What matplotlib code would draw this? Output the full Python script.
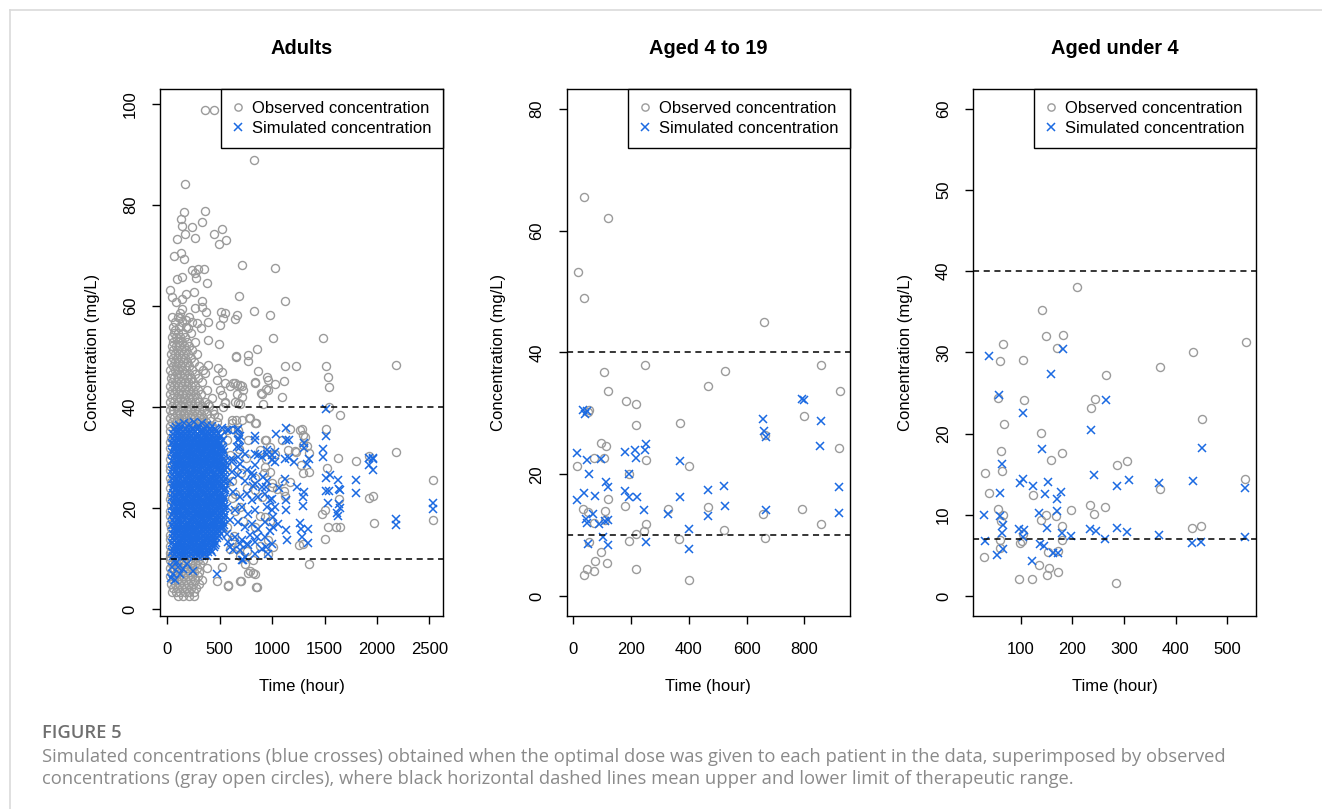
import matplotlib
matplotlib.use('Agg')
import matplotlib.pyplot as plt
from matplotlib.lines import Line2D

# ---------------- data ----------------
# Adults: observed, scattered points
obs_adult_x = [360, 445, 830, 166, 159, 363, 127, 143, 239, 328, 166, 261, 442, 519, 496, 557,
               89, 61, 127, 159, 232, 290, 350, 264, 143, 89, 274, 379, 709, 1027, 687, 1126,
               29, 48, 80, 143, 175, 252, 334, 331, 143, 261, 369, 391, 512, 547, 534, 643,
               662, 830, 983, 503, 124, 121, 181, 286, 321, 77, 197, 385, 1012, 1482,
               493, 659, 773, 773, 853, 1126, 1228, 1514, 1530, 1540, 2182, 865, 951, 837, 1031, 1116,
               938, 897, 1094, 910, 662, 716, 627, 601, 671, 554, 1543, 1644, 1282, 1298, 1314, 1170,
               1514, 1225, 1298, 1330, 1349, 1275, 1298, 1355, 1632, 1803, 1924, 2185, 1527, 2535, 2535, 1924,
               1966, 1969, 1635, 1479, 1508, 1536, 1613, 1651, 1508, 1256, 1298, 1352, 1170, 942, 783, 843,
               652, 614, 773, 1113, 1126, 942, 1221, 576, 700, 846, 767, 821, 474, 519,
               789, 837, 566, 678, 932, 980, 1027, 1091, 1155, 1266, 932, 980, 1091, 837, 900, 996,
               566, 614, 646, 694, 566, 614, 678, 837, 932, 964, 1011, 741, 789, 837, 694, 583, 853,
               391, 439, 487, 535, 423, 519, 566, 455, 535, 614, 678, 710, 640, 600, 690, 760,
               820, 880, 960, 720, 650, 880, 980, 560, 620, 700, 760, 840, 920, 1000, 1050, 600,
               680, 750, 880, 655, 487, 519, 391, 360, 471, 551, 503, 519, 551, 646, 694, 725,
               662, 709, 646, 694, 837, 900, 964, 964]
obs_adult_y = [98.9, 98.9, 89.0, 84.2, 78.6, 78.8, 77.2, 75.8, 75.6, 76.6, 74.2, 73.5, 74.3, 75.2, 72.3, 73.0,
               73.3, 69.9, 70.6, 69.4, 67.2, 67.4, 67.3, 66.5, 65.8, 65.4, 65.6, 64.6, 68.2, 67.6, 62.0, 61.0,
               63.1, 61.8, 60.8, 61.5, 62.5, 62.8, 61.0, 59.9, 59.5, 59.7, 58.8, 56.8, 58.8, 58.7, 57.6, 57.5,
               58.2, 59.1, 58.3, 56.3, 58.7, 57.7, 57.2, 56.7, 55.6, 55.3, 55.6, 53.3, 53.6, 53.7,
               52.5, 50.0, 50.4, 49.2, 51.6, 48.1, 48.1, 48.1, 45.9, 44.1, 48.3, 47.2, 46.0, 44.9, 44.5, 45.1,
               43.7, 42.9, 42.1, 40.7, 44.4, 44.2, 44.7, 44.2, 40.9, 40.9, 40.1, 38.5, 35.6, 34.6, 34.1, 35.6,
               35.6, 31.1, 32.6, 32.3, 31.0, 28.6, 27.0, 27.2, 30.0, 29.3, 30.4, 31.2, 27.9, 25.6, 17.6, 22.0,
               22.4, 17.1, 21.9, 18.9, 19.7, 16.4, 16.4, 16.4, 14.0, 12.7, 13.0, 9.05, 25.2, 33.6, 37.8, 36.9,
               37.4, 37.4, 33.5, 23.5, 22.5, 29.8, 31.3, 4.6, 5.6, 4.4, 7.3, 7.3, 5.6, 8.3,
               37.8, 36.8, 35.4, 34.8, 33.5, 32.2, 30.8, 33.5, 31.5, 35.4, 28.2, 27.2, 25.5, 23.6, 22.3, 24.2,
               28.2, 25.5, 22.9, 20.3, 16.3, 13.7, 12.4, 16.3, 18.3, 13.7, 12.4, 9.0, 7.7, 7.0, 5.7, 4.8, 4.4,
               40.7, 39.4, 38.1, 40.1, 36.1, 34.8, 33.5, 32.2, 30.8, 36.8, 35.4, 37.4, 14.5, 12.0, 10.5, 11.5,
               9.8, 12.5, 11.0, 17.5, 19.5, 18.5, 17.5, 25.0, 22.0, 27.0, 24.0, 26.0, 27.0, 25.0, 23.8, 30.5,
               31.8, 30.0, 31.5, 50.1, 47.7, 47.0, 48.3, 46.7, 45.4, 44.7, 43.4, 42.4, 41.1, 44.7, 44.4, 43.4,
               42.7, 42.1, 41.1, 40.7, 44.7, 42.7, 45.4, 43.4]

# Adults: observed, dense column (row level -> times)
obs_adult_col_y = [36.2, 37.0, 37.8, 38.6, 39.4, 40.2, 41.0, 41.8, 42.6, 43.4, 44.2, 45.0, 45.8,
                   46.6, 47.4, 48.2, 49.0, 49.8, 50.6, 51.4, 52.2, 53.0, 53.8, 54.6, 55.8, 56.8, 57.8,
                   9.8, 9.0, 8.2, 7.4, 6.6, 5.8, 5.0, 4.2, 3.4, 2.7]
obs_adult_col_x = [[28, 70, 101, 146, 181, 228, 262, 307, 345, 392, 430],
                   [45, 81, 125, 160, 209, 240, 288, 324, 368, 470],
                   [22, 63, 107, 142, 172, 221, 255, 302, 341, 410],
                   [42, 88, 119, 163, 194, 238, 284, 318, 380, 445],
                   [27, 58, 100, 139, 186, 217, 262, 298, 352],
                   [44, 80, 127, 158, 201, 249, 281, 327, 400],
                   [29, 66, 103, 147, 183, 222, 266, 305, 362],
                   [47, 90, 124, 162, 206, 239, 285, 430],
                   [30, 64, 108, 143, 179, 218, 262, 318],
                   [46, 86, 120, 167, 203, 244, 290, 375],
                   [25, 67, 105, 139, 188, 225, 268],
                   [48, 83, 131, 164, 199, 246, 330],
                   [31, 65, 101, 145, 186, 228, 290],
                   [45, 88, 122, 163, 207, 262],
                   [29, 69, 104, 142, 181, 236, 340],
                   [50, 85, 127, 166, 210, 300],
                   [33, 70, 106, 148, 192, 250],
                   [52, 90, 129, 170, 225],
                   [36, 73, 110, 152, 199, 280],
                   [55, 94, 133, 175, 240],
                   [40, 78, 116, 160, 210],
                   [58, 97, 141, 188, 265],
                   [44, 83, 121, 170],
                   [62, 104, 150, 230],
                   [50, 115, 175],
                   [70, 140, 240],
                   [45, 100, 205],
                   [30, 70, 110, 150, 195, 240, 290, 340],
                   [45, 88, 128, 170, 215, 262, 315],
                   [28, 66, 106, 146, 188, 232, 280, 380],
                   [48, 90, 130, 172, 214, 258, 305],
                   [30, 70, 110, 152, 196, 240, 290],
                   [50, 92, 134, 176, 218, 265, 330],
                   [34, 75, 115, 158, 200, 245, 300],
                   [55, 96, 138, 180, 224, 275],
                   [40, 82, 122, 165, 210, 255],
                   [100, 150, 205, 250]]
# observed points just left of the simulated block
obs_adult_edge_x = [25, 32, 22, 30, 26, 34, 23, 29, 27, 33, 24, 31, 26, 35, 22, 28, 30, 25, 33, 27, 24, 31, 29, 26]
obs_adult_edge_y = [10.4, 11.6, 12.5, 13.9, 14.8, 16.1, 17.0, 18.4, 19.5, 20.6, 21.9, 22.7, 24.0, 25.2,
                    26.1, 27.5, 28.3, 29.8, 30.6, 31.9, 33.1, 34.0, 35.3, 11.1]

# Adults: simulated, dense block (row level -> times)
sim_adult_blk_y = [35.7, 34.8, 33.9, 33.0, 32.1, 31.2, 30.3, 29.4, 28.5, 27.6, 26.7, 25.8, 24.9, 24.0,
                   23.1, 22.2, 21.3, 20.4, 19.5, 18.6, 17.7, 16.8, 15.9, 15.0, 14.1, 13.2, 12.3, 11.4, 10.6,
                   35.25, 34.35, 33.45, 32.55, 31.65, 30.75, 29.85, 28.95, 28.05, 27.15, 26.25, 25.35, 24.45,
                   23.55, 22.65, 21.75, 20.85, 19.95, 19.05, 18.15, 17.25, 16.35, 15.45, 14.55, 13.65, 12.75,
                   11.85, 11.0]
sim_adult_blk_x = [[64, 121, 176, 238, 292, 349, 405, 450],
                   [50, 92, 129, 168, 205, 249, 281, 327, 359, 400, 446, 480],
                   [57, 98, 140, 174, 215, 257, 293, 331, 375, 410, 449, 494],
                   [47, 82, 126, 159, 198, 238, 271, 315, 348, 387, 430, 464, 506],
                   [61, 105, 138, 177, 219, 255, 290, 334, 367, 406, 450, 483, 522],
                   [48, 85, 123, 166, 200, 237, 281, 313, 352, 396, 429, 468, 512, 541],
                   [59, 97, 141, 174, 212, 256, 289, 327, 370, 403, 442, 486, 519],
                   [46, 88, 122, 159, 202, 235, 273, 317, 350, 389, 432, 465, 504, 546],
                   [62, 99, 139, 181, 215, 252, 296, 330, 368, 411, 445, 484, 528],
                   [49, 86, 129, 162, 201, 243, 277, 315, 359, 392, 430, 475, 509, 548],
                   [58, 100, 134, 171, 215, 249, 287, 331, 363, 401, 445, 478, 517],
                   [47, 84, 121, 165, 198, 236, 279, 313, 351, 395, 428, 467, 511, 552],
                   [60, 98, 142, 175, 213, 257, 290, 329, 371, 405, 443, 487, 520],
                   [50, 87, 125, 168, 202, 239, 283, 316, 355, 398, 431, 471, 515, 549],
                   [57, 101, 133, 172, 214, 248, 286, 329, 362, 400, 444, 477, 516],
                   [48, 85, 128, 161, 199, 242, 275, 314, 357, 391, 429, 473, 507, 545],
                   [61, 99, 138, 181, 214, 253, 296, 330, 367, 411, 444, 483, 527],
                   [46, 83, 126, 158, 197, 240, 273, 312, 355, 388, 427, 470, 504, 542],
                   [59, 97, 135, 178, 211, 250, 293, 327, 365, 408, 441, 480, 524],
                   [49, 86, 129, 162, 200, 243, 276, 315, 358, 392, 430, 474, 508, 550],
                   [58, 101, 134, 172, 215, 248, 287, 330, 364, 402, 445, 479, 517],
                   [47, 84, 122, 165, 198, 236, 280, 313, 351, 395, 428, 466, 510, 544],
                   [60, 103, 136, 174, 217, 251, 289, 333, 366, 404, 448, 481, 520],
                   [50, 87, 130, 163, 201, 244, 277, 316, 359, 393, 431, 475, 509],
                   [57, 95, 138, 171, 209, 252, 286, 324, 367, 401, 439, 478],
                   [48, 90, 123, 161, 204, 237, 276, 319, 352, 390, 434, 468],
                   [61, 99, 142, 175, 213, 257, 290, 328, 371, 405, 443],
                   [47, 84, 127, 160, 198, 241, 274, 313, 356, 389, 430],
                   [58, 96, 139, 172, 210, 253, 290, 335, 380],
                   [80, 109, 153, 191, 230, 262, 313, 340, 386, 421, 466],
                   [70, 113, 148, 190, 227, 269, 305, 349, 382, 430, 465, 512],
                   [66, 104, 146, 178, 224, 255, 300, 335, 375, 411, 455, 488, 531],
                   [75, 110, 152, 187, 229, 263, 307, 341, 383, 417, 463, 495],
                   [68, 108, 143, 185, 218, 264, 293, 340, 372, 415, 449, 494, 528],
                   [77, 112, 155, 188, 232, 265, 307, 342, 386, 418, 465, 497],
                   [65, 107, 141, 184, 219, 262, 294, 339, 371, 416, 449, 493, 533],
                   [74, 115, 148, 192, 225, 269, 302, 346, 378, 423, 456, 501, 535],
                   [68, 103, 147, 180, 224, 257, 302, 334, 379, 411, 455, 488, 532],
                   [71, 114, 146, 190, 223, 267, 300, 344, 377, 421, 454, 499, 533],
                   [66, 109, 142, 186, 219, 264, 297, 341, 373, 418, 451, 495, 529],
                   [76, 109, 154, 186, 231, 263, 308, 341, 385, 418, 463, 495, 543],
                   [67, 108, 141, 185, 218, 263, 295, 340, 372, 417, 449, 494, 527],
                   [73, 108, 153, 185, 230, 262, 307, 340, 384, 416, 461, 494, 538],
                   [69, 110, 143, 187, 220, 265, 297, 342, 374, 419, 452, 496, 528],
                   [75, 110, 155, 187, 232, 264, 309, 341, 386, 419, 463, 496, 541],
                   [64, 107, 140, 184, 217, 262, 294, 339, 371, 416, 449, 493, 526],
                   [73, 107, 152, 184, 229, 262, 306, 339, 383, 416, 461, 493, 537],
                   [68, 109, 142, 186, 219, 264, 296, 341, 373, 418, 451, 495, 528],
                   [76, 109, 154, 186, 231, 263, 308, 341, 385, 418, 463, 495, 539],
                   [67, 108, 141, 185, 218, 263, 295, 340, 372, 417, 449, 494, 527],
                   [72, 114, 147, 191, 224, 268, 301, 346, 378, 422, 455, 500, 532],
                   [69, 104, 149, 181, 226, 259, 303, 336, 380, 413, 458, 490],
                   [75, 116, 149, 193, 226, 270, 303, 347, 380, 425, 457, 497],
                   [66, 107, 140, 184, 217, 262, 294, 339, 371, 416, 449],
                   [72, 113, 146, 190, 223, 268, 300, 345, 377, 422, 452],
                   [68, 103, 148, 180, 225, 258, 302, 335, 379, 412],
                   [74, 115, 148, 192, 225, 269, 307, 352]]
# Adults: simulated, scattered points
sim_adult_x = [566, 662, 694, 678, 837, 837, 592, 671, 681, 694, 662, 741, 678, 630, 837, 900,
               948, 996, 862, 948, 598, 662, 694, 757, 837, 996, 566, 614, 678, 598, 741, 805,
               837, 900, 821, 821, 916, 948, 942, 551, 630, 694, 757, 805, 868, 932, 980, 948,
               996, 995, 566, 646, 710, 773, 837, 1027, 1012, 598, 678, 741, 805, 868, 932, 980,
               1012, 566, 646, 710, 789, 837, 932, 996, 853, 598, 694, 773, 837, 900, 964, 938,
               582, 630, 710, 741, 725, 757, 694, 471,
               1034, 1129, 1129, 1161, 1027, 1123, 1161, 1123, 1027, 1129, 1129, 1129, 1139, 1070, 1060,
               1514, 1511, 1482, 1489, 1301, 1301, 1352, 1336, 1206, 1514, 1549, 1625, 1641, 1514, 1546,
               1530, 1651, 1622, 1632, 1800, 1800, 1924, 1966, 1966, 1307, 1298, 1298, 1234, 1266, 1276,
               1346, 1282, 1346, 2185, 2185, 2535, 2535, 1921, 1965, 1644, 1638,
               40, 57, 73, 121, 105, 185, 248, 35, 90, 150, 60,
               110, 205, 290, 380, 160, 330, 430, 520, 80, 250]
sim_adult_y = [35.4, 35.4, 34.4, 33.5, 34.4, 33.5, 35.4, 35.6, 33.8, 32.2, 32.2, 30.8, 30.2, 29.5, 30.8, 30.2,
               31.5, 30.5, 30.5, 30.7, 29.5, 28.2, 28.8, 27.5, 28.5, 29.5, 28.2, 27.2, 26.5, 25.5, 25.5, 26.9,
               24.9, 24.2, 26.4, 24.5, 26.2, 25.5, 24.2, 23.6, 23.2, 22.3, 22.9, 21.6, 22.3, 22.9, 21.6, 20.3,
               19.6, 21.9, 20.3, 19.6, 20.3, 18.9, 19.6, 20.3, 18.3, 17.6, 17.3, 16.3, 17.0, 16.0, 17.3, 15.6,
               16.3, 15.0, 14.3, 13.7, 14.7, 13.3, 14.3, 13.0, 14.3, 12.4, 11.7, 12.7, 11.0, 12.0, 11.0, 12.3,
               13.3, 11.7, 9.7, 10.4, 9.7, 13.0, 13.0, 7.1,
               34.7, 35.8, 33.6, 33.5, 31.2, 29.8, 30.0, 25.9, 29.2, 21.6, 19.6, 15.7, 13.7, 24.0, 17.0,
               39.7, 34.3, 31.8, 30.2, 33.0, 32.0, 29.8, 28.8, 29.2, 26.0, 26.5, 25.6, 23.8, 23.4, 23.4,
               21.1, 20.0, 19.0, 18.5, 25.7, 23.1, 28.5, 29.8, 27.5, 23.3, 22.2, 20.5, 24.2, 17.1, 16.0,
               16.0, 14.3, 13.1, 17.8, 16.8, 21.1, 19.9, 30.0, 30.0, 23.6, 20.9,
               8.4, 7.1, 5.8, 7.1, 8.4, 9.0, 7.7, 6.3, 9.3, 8.0, 9.6,
               36.4, 36.6, 36.2, 36.5, 36.9, 36.8, 36.3, 35.9, 36.1, 37.0]

# Aged 4 to 19
obs_kid_x = [38, 121, 15, 36, 659, 105, 120, 247, 181, 218, 218, 96, 112, 72, 105, 13, 54, 50, 194, 253,
             369, 402, 468, 526, 858, 923, 798, 665, 920, 120, 34, 52, 111, 180, 328, 465, 793, 657, 111,
             251, 246, 218, 523, 857, 665, 192, 366, 55, 95, 75, 118, 46, 36, 72, 216, 400, 72]
obs_kid_y = [65.5, 62.0, 53.2, 49.0, 45.0, 36.8, 33.7, 37.9, 32.0, 31.5, 28.1, 25.1, 24.6, 22.6, 22.7, 21.3,
             30.6, 30.2, 20.1, 22.4, 28.4, 21.3, 34.5, 37.0, 37.9, 33.6, 29.5, 26.4, 24.3, 15.9, 14.3, 13.8,
             14.0, 14.7, 14.3, 14.6, 14.3, 13.5, 12.4, 11.8, 10.6, 10.2, 10.9, 11.9, 9.6, 9.0, 9.3, 8.9, 7.3,
             5.7, 5.5, 4.5, 3.5, 4.1, 4.5, 2.6, 12.0]
sim_kid_x = [35, 41, 47, 13, 46, 54, 95, 36, 12, 76, 112, 121, 44, 47, 69, 90, 109, 121, 104, 120, 50, 180,
             215, 218, 252, 249, 193, 180, 192, 222, 246, 251, 328, 369, 369, 402, 402, 465, 468, 523, 526,
             658, 660, 668, 666, 793, 798, 857, 855, 920, 921]
sim_kid_y = [30.5, 29.9, 30.3, 23.5, 22.3, 20.0, 22.5, 16.9, 15.7, 16.5, 18.8, 17.9, 12.7, 12.0, 13.5, 11.8,
             12.3, 12.4, 9.7, 8.4, 8.5, 23.6, 23.9, 22.7, 24.9, 23.9, 20.1, 17.3, 16.3, 16.3, 14.2, 8.8, 13.5,
             22.1, 16.3, 11.0, 7.8, 17.4, 13.1, 18.1, 14.7, 29.0, 27.1, 26.1, 14.2, 32.3, 32.2, 28.8, 24.6,
             17.9, 13.7]

# Aged under 4
obs_inf_x = [65, 59, 105, 149, 182, 170, 141, 209, 265, 369, 434, 536, 56, 107, 236, 244, 67, 139, 61, 63,
             179, 158, 287, 306, 451, 30, 39, 123, 369, 535, 55, 65, 61, 139, 148, 169, 197, 234, 242, 263,
             180, 104, 103, 99, 59, 59, 172, 179, 152, 28, 136, 155, 151, 172, 97, 121, 285, 432, 450]
obs_inf_y = [31.0, 28.9, 29.1, 32.0, 32.2, 30.6, 35.2, 38.1, 27.2, 28.2, 30.0, 31.3, 24.4, 24.1, 23.1, 24.2,
             21.2, 20.1, 17.8, 15.4, 17.6, 16.7, 16.1, 16.6, 21.8, 15.1, 12.7, 12.5, 13.2, 14.4, 10.7, 10.0,
             9.2, 9.4, 10.0, 9.8, 10.6, 11.2, 10.1, 10.9, 8.6, 7.6, 6.8, 6.5, 6.9, 5.9, 5.6, 6.9, 5.4, 4.8,
             3.8, 3.4, 2.6, 3.0, 2.1, 2.1, 1.6, 8.4, 8.6]
sim_inf_x = [39, 57, 181, 158, 104, 236, 265, 141, 451, 63, 242, 287, 309, 368, 434, 534, 59, 98, 105, 124,
             147, 152, 171, 178, 170, 28, 59, 66, 63, 66, 54, 30, 96, 106, 105, 136, 151, 137, 145, 121,
             162, 173, 180, 197, 234, 245, 263, 287, 306, 368, 432, 450, 535]
sim_inf_y = [29.5, 24.7, 30.4, 27.4, 22.5, 20.4, 24.1, 18.1, 18.2, 16.2, 14.9, 13.5, 14.3, 13.9, 14.2, 13.3,
             12.7, 13.9, 14.4, 13.5, 12.6, 14.0, 12.0, 12.8, 10.5, 10.0, 9.9, 8.8, 7.7, 5.8, 5.1, 6.8, 8.3,
             8.1, 7.3, 10.2, 8.4, 6.4, 6.2, 4.3, 5.3, 5.3, 7.7, 7.4, 8.3, 8.0, 7.0, 8.4, 7.9, 7.5, 6.5, 6.6, 7.3]

titles = ['Adults', 'Aged 4 to 19', 'Aged under 4']
limits = [(10, 40), (10, 40), (7, 40)]  # therapeutic range per group
xticks = [[0, 500, 1000, 1500, 2000, 2500], [0, 200, 400, 600, 800], [100, 200, 300, 400, 500]]
yticks = [[0, 20, 40, 60, 80, 100], [0, 20, 40, 60, 80], [0, 10, 20, 30, 40, 50, 60]]
xlims = [(-70, 2630), (-23, 958), (8, 556)]
ylims = [(-1.2, 102.9), (-3.2, 83.2), (-2.4, 62.4)]

# ---------------- assemble adult arrays ----------------
ox = list(obs_adult_x) + list(obs_adult_edge_x)
oy = list(obs_adult_y) + list(obs_adult_edge_y)
for yv, row in zip(obs_adult_col_y, obs_adult_col_x):
    ox += row
    oy += [yv] * len(row)
sx, sy = [], []
for yv, row in zip(sim_adult_blk_y, sim_adult_blk_x):
    sx += row
    sy += [yv] * len(row)
sx += sim_adult_x
sy += sim_adult_y

obs = [(ox, oy), (obs_kid_x, obs_kid_y), (obs_inf_x, obs_inf_y)]
sim = [(sx, sy), (sim_kid_x, sim_kid_y), (sim_inf_x, sim_inf_y)]

# ---------------- plot ----------------
GRAY = '#9b9b9b'
BLUE = '#1b6ae2'
plt.rcParams['font.family'] = ['Liberation Sans', 'DejaVu Sans']

fig = plt.figure(figsize=(13.22, 8.09), dpi=100)
W, H = 1322.0, 809.0
lefts = [160, 566.7, 973.3]
rights = [443, 850, 1256]
top, bottom = 89.3, 615.5

for i in range(3):
    ax = fig.add_axes([lefts[i] / W, 1 - bottom / H, (rights[i] - lefts[i]) / W, (bottom - top) / H])
    ax.plot(obs[i][0], obs[i][1], 'o', ms=5.8, mfc='none', mec=GRAY, mew=1.0,
            label='Observed concentration')
    ax.plot(sim[i][0], sim[i][1], 'x', ms=6.3, mec=BLUE, mew=1.1,
            label='Simulated concentration')
    for v in limits[i]:
        ax.axhline(v, color='black', ls=(0, (4, 3)), lw=1.1)
    ax.set_xlim(*xlims[i])
    ax.set_ylim(*ylims[i])
    ax.set_xticks(xticks[i])
    ax.set_yticks(yticks[i])
    ax.tick_params(direction='out', length=6, width=1, labelsize=12, color='black')
    ax.tick_params(axis='x', pad=13)
    ax.tick_params(axis='y', pad=10)
    for lab in ax.get_yticklabels():
        lab.set_rotation(90)
        lab.set_va('center')
    for s in ax.spines.values():
        s.set_linewidth(1.0)
    ax.text(0.5, 1 + (top - 49) / (bottom - top), titles[i], transform=ax.transAxes,
            ha='center', va='center', fontsize=14.4, fontweight='bold')
    ax.text(0.5, -(686 - bottom) / (bottom - top), 'Time (hour)', transform=ax.transAxes,
            ha='center', va='center', fontsize=12)
    ax.text(-68 / (rights[i] - lefts[i]), 0.5, 'Concentration (mg/L)',
            transform=ax.transAxes, rotation=90, ha='center', va='center', fontsize=12)
    leg = ax.legend(loc='upper right', borderaxespad=0, fancybox=False, framealpha=1,
                    edgecolor='black', fontsize=12, handlelength=0.6, handletextpad=0.55,
                    borderpad=0.7, labelspacing=0.3, markerscale=0.9)
    leg.get_frame().set_linewidth(1.0)

# caption and page frame
fig.add_artist(Line2D([10 / W, 10 / W], [0, 1 - 10 / H], color='#dadada', lw=1.2))
fig.add_artist(Line2D([10 / W, 1], [1 - 10 / H, 1 - 10 / H], color='#dadada', lw=1.2))
fig.text(42 / W, 1 - 737.5 / H, 'FIGURE 5', fontsize=13.2, fontweight='semibold',
         color='#6f6f6f', family=['Open Sans', 'DejaVu Sans'], va='baseline')
fig.text(42 / W, 1 - 761.5 / H,
         'Simulated concentrations (blue crosses) obtained when the optimal dose was given to each '
         'patient in the data, superimposed by observed',
         fontsize=13.2, color='#8a8a8a', family=['Open Sans', 'DejaVu Sans'], va='baseline')
fig.text(42 / W, 1 - 784.5 / H,
         'concentrations (gray open circles), where black horizontal dashed lines mean upper and '
         'lower limit of therapeutic range.',
         fontsize=13.2, color='#8a8a8a', family=['Open Sans', 'DejaVu Sans'], va='baseline')

fig.savefig('out.png', dpi=100)
